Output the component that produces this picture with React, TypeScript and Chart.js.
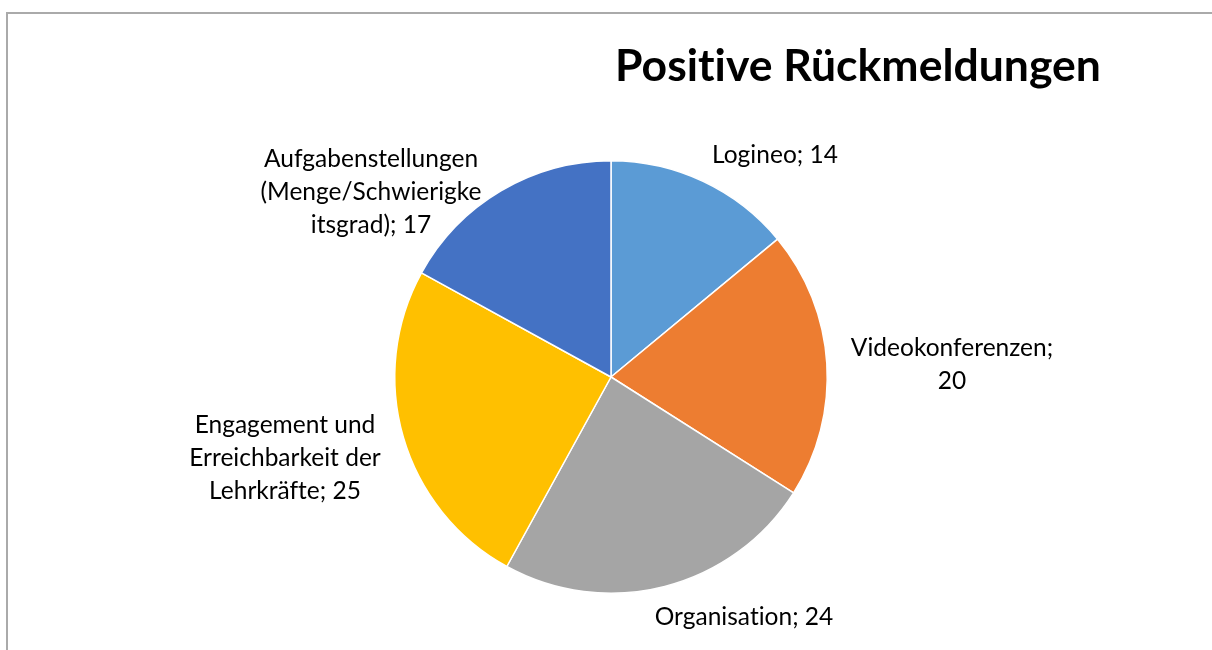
import React, { useEffect, useRef } from "react";
import { Chart, registerables } from "chart.js";

Chart.register(...registerables);

const categories = [
  "Logineo",
  "Videokonferenzen",
  "Organisation",
  "Engagement und Erreichbarkeit der Lehrkräfte",
  "Aufgabenstellungen (Menge/Schwierigkeitsgrad)",
];
const values = [14, 20, 24, 25, 17];
const labelLines = [
  ["Logineo; 14"],
  ["Videokonferenzen;", "20"],
  ["Organisation; 24"],
  ["Engagement und", "Erreichbarkeit der", "Lehrkräfte; 25"],
  ["Aufgabenstellungen", "(Menge/Schwierigke", "itsgrad); 17"],
];
const colors = ["#5B9BD5", "#ED7D31", "#A5A5A5", "#FFC000", "#4472C4"];
const titleText = "Positive Rückmeldungen";

// label block centres, as offsets from the pie centre (px)
const labelOffsets = [
  [164, -222],
  [341, -12],
  [133, 240],
  [-326, 81],
  [-240, -185],
];

const FONT = "Lato, 'Open Sans', sans-serif";

const labelPlugin = {
  id: "outerLabels",
  afterDraw(chart: any) {
    const ctx = chart.ctx;
    const meta = chart.getDatasetMeta(0);
    const arc = meta.data[0];
    if (!arc) return;
    const cx = arc.x;
    const cy = arc.y;
    ctx.save();
    ctx.fillStyle = "#000";
    ctx.textAlign = "center";
    ctx.textBaseline = "middle";
    try {
      (ctx as any).letterSpacing = "0.01px";
    } catch (e) {}
    ctx.font = `24.5px ${FONT}`;
    const lh = 33;
    labelLines.forEach((lines, i) => {
      const [dx, dy] = labelOffsets[i];
      const x = cx + dx;
      const y0 = cy + dy - ((lines.length - 1) * lh) / 2;
      lines.forEach((ln, j) => ctx.fillText(ln, x, y0 + j * lh));
    });
    ctx.font = `bold 44.5px ${FONT}`;
    ctx.fillText(titleText, 858, 67);
    ctx.restore();
  },
};

export default function App() {
  const ref = useRef<HTMLCanvasElement | null>(null);
  useEffect(() => {
    document.body.style.margin = "0";
    const chart = new Chart(ref.current as HTMLCanvasElement, {
      type: "pie",
      data: {
        labels: categories,
        datasets: [
          {
            data: values,
            backgroundColor: colors,
            borderColor: "#ffffff",
            borderWidth: 1.5,
          },
        ],
      },
      options: {
        responsive: false,
        animation: false,
        layout: { padding: { top: 160, bottom: 56, left: 311, right: 301 } },
        plugins: {
          legend: { display: false },
          tooltip: { enabled: false },
          title: { display: false },
        },
      },
      plugins: [labelPlugin],
    });
    return () => chart.destroy();
  }, []);
  return (
    <div style={{ position: "relative", width: 1212, height: 650, overflow: "hidden", background: "#fff" }}>
      <canvas ref={ref} width={1212} height={650} style={{ position: "absolute", left: 0, top: 0 }} />
      <div
        style={{
          position: "absolute",
          left: 6,
          top: 12,
          width: 1400,
          height: 800,
          borderTop: "2px solid #aaaaaa",
          borderLeft: "2px solid #aaaaaa",
          pointerEvents: "none",
        }}
      />
    </div>
  );
}
